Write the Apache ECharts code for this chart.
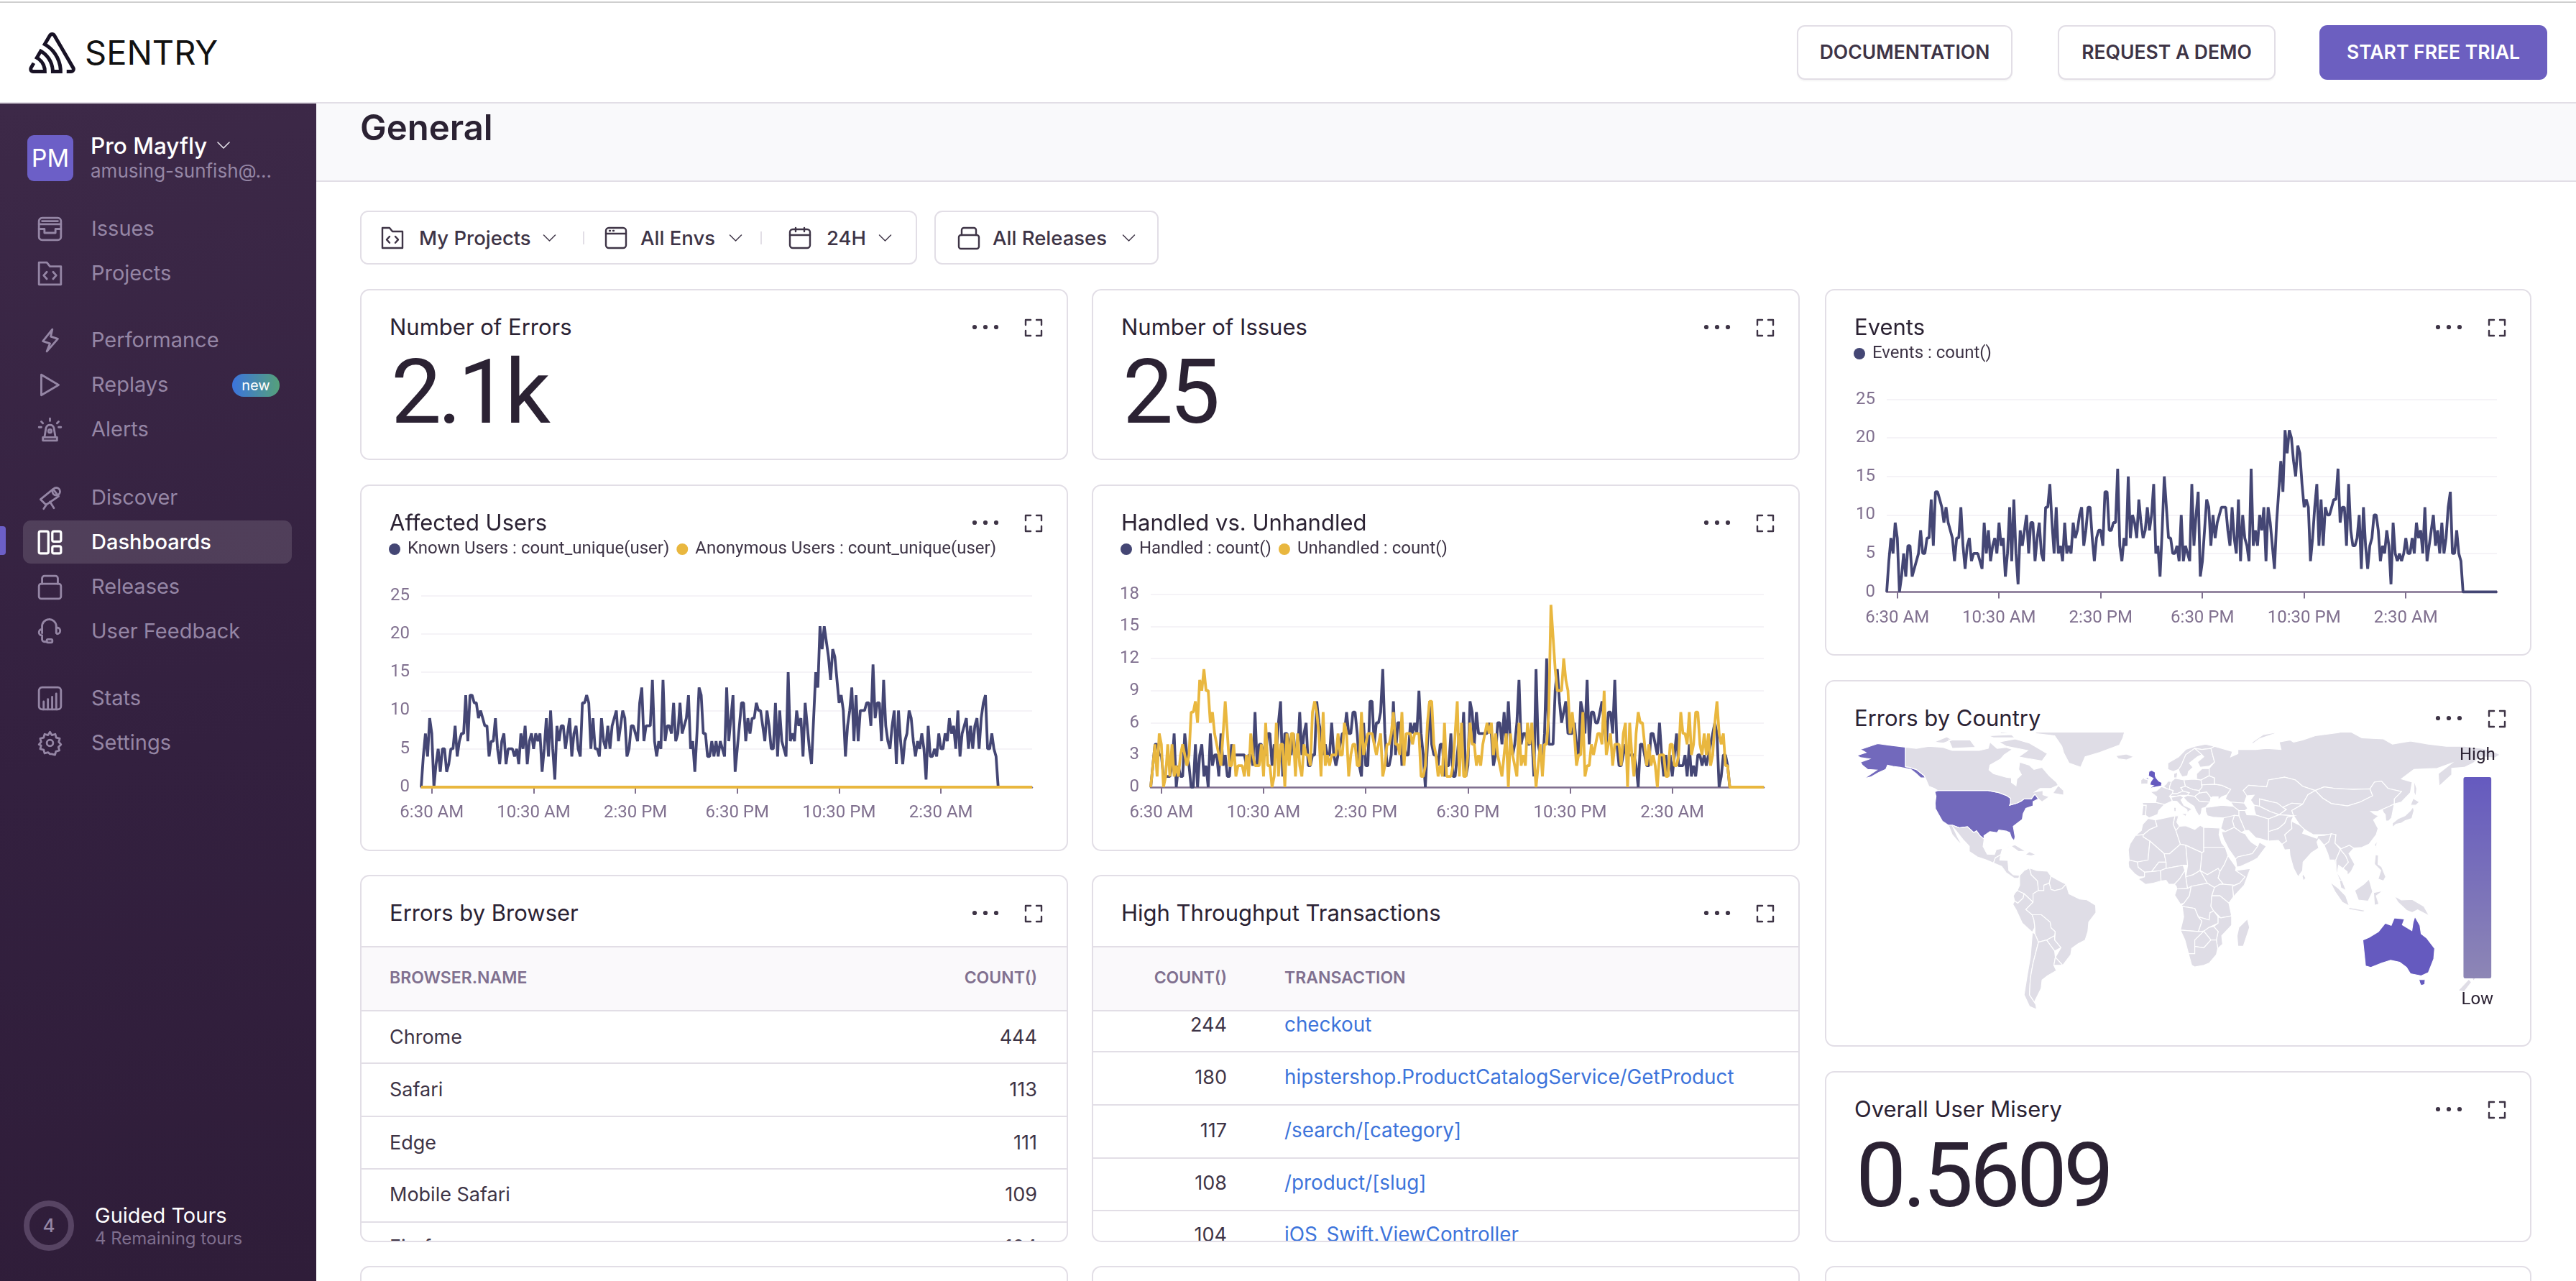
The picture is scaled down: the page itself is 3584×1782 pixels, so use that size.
<!DOCTYPE html>
<html>
<head>
<meta charset="utf-8">
<title>Sentry - General</title>
<script src="https://cdn.jsdelivr.net/npm/echarts@6/dist/echarts.min.js"></script>
<style>
html, body { margin: 0; padding: 0; background: #fff; }
#page { position: relative; width: 3584px; height: 1782px; overflow: hidden; background: #fff; font-family: Inter, sans-serif; color: #2b2233; }
.t { position: absolute; white-space: nowrap; transform: translateY(-50%); line-height: 1.2; }
.r { transform: translate(-100%, -50%); }
.c { transform: translate(-50%, -50%); }
.box { position: absolute; box-sizing: border-box; }
.card { position: absolute; box-sizing: border-box; background: #fff; border: 2px solid #e2dee6; border-radius: 13px; overflow: hidden; }
.chart { position: absolute; }
svg { position: absolute; overflow: visible; }
</style>
</head>
<body>
<div id="page"></div>
<script>
// bucket starts 6:05 AM, 5 minute buckets
var startMinutes = 6 * 60 + 5;
var bucketMinutes = 5;
var tickLabels = ['6:30 AM', '10:30 AM', '2:30 PM', '6:30 PM', '10:30 PM', '2:30 AM'];

var eventCounts = [
  0,4,7,5,9,7,0,2,5,2, 6,6,2,3,4,5,8,5,5,7, 7,12,6,13,13,12,11,9,11,9, 8,7,4,7,7,11,6,3,6,7,
  4,5,5,5,4,3,9,5,8,4, 6,7,5,9,6,7,2,5,11,4, 12,5,1,8,6,8,10,5,9,9, 4,7,9,5,4,11,11,14,9,5,
  11,5,6,4,9,5,6,5,9,7, 8,10,11,6,8,11,11,7,4,7, 8,8,6,13,13,8,8,9,9,16, 6,4,7,6,15,7,10,9,7,12,
  9,7,8,11,8,10,14,5,6,2, 8,15,11,7,7,5,5,6,4,10, 4,6,5,4,14,6,10,13,2,4, 8,12,11,6,10,7,9,10,11,11,
  11,8,6,11,7,5,12,4,10,7, 6,4,16,6,8,6,10,8,11,4, 11,9,6,3,9,13,17,13,21,18, 21,20,17,15,19,18,14,11,12,11,
  4,7,11,14,6,12,6,11,10,10, 11,12,12,16,9,11,11,6,14,8, 6,6,7,10,3,11,6,3,6,7, 10,10,8,4,6,5,8,6,1,9,
  5,4,5,4,5,7,5,5,7,5, 9,7,8,5,11,4,6,8,10,6, 8,5,9,5,7,11,13,5,5,8, 5,4,0,0,0,0,0,0,0,0, 0,0,0,0,0,0,0,0,0
];

var knownUsers = [
  0,4,7,4,9,7,0,3,5,2, 5,5,2,3,5,5,8,4,6,7, 7,12,6,12,12,11,11,9,10,9, 8,8,4,6,6,9,5,3,6,7,
  3,5,5,5,4,5,3,7,5,8, 3,6,7,5,7,6,7,2,5,9, 4,10,5,1,8,6,8,8,5,7, 9,4,7,8,5,4,11,11,12,11,
  5,9,5,5,4,9,6,5,8,5, 8,9,10,6,8,10,9,4,5,8, 8,7,6,11,13,6,8,8,8,14, 6,4,6,5,14,6,8,8,7,11,
  6,7,11,7,8,9,12,5,6,2, 7,13,12,7,7,4,4,6,4,6, 4,6,5,4,13,6,9,12,2,5, 8,11,11,6,9,7,9,9,11,10,
  10,8,6,10,8,5,5,11,4,10, 6,5,4,15,6,7,6,10,8,9, 4,11,8,5,3,9,15,13,21,18, 21,19,17,14,18,17,14,11,12,10,
  4,8,10,13,6,12,6,10,10,10, 11,11,8,16,9,11,11,6,14,8, 6,5,8,10,3,10,6,3,6,7, 10,9,6,4,6,5,7,5,1,8,
  4,4,5,4,7,5,5,7,6,9, 7,8,5,10,4,7,8,9,5,8, 5,8,9,5,9,11,12,5,5,7, 5,4,0,0,0,0,0,0,0,0, 0,0,0,0,0,0,0,0,0
];

var anonymousUsers = [
  0,0,0,0,0,0,0,0,0,0, 0,0,0,0,0,0,0,0,0,0, 0,0,0,0,0,0,0,0,0,0, 0,0,0,0,0,0,0,0,0,0,
  0,0,0,0,0,0,0,0,0,0, 0,0,0,0,0,0,0,0,0,0, 0,0,0,0,0,0,0,0,0,0, 0,0,0,0,0,0,0,0,0,0,
  0,0,0,0,0,0,0,0,0,0, 0,0,0,0,0,0,0,0,0,0, 0,0,0,0,0,0,0,0,0,0, 0,0,0,0,0,0,0,0,0,0,
  0,0,0,0,0,0,0,0,0,0, 0,0,0,0,0,0,0,0,0,0, 0,0,0,0,0,0,0,0,0,0, 0,0,0,0,0,0,0,0,0,0,
  0,0,0,0,0,0,0,0,0,0, 0,0,0,0,0,0,0,0,0,0, 0,0,0,0,0,0,0,0,0,0, 0,0,0,0,0,0,0,0,0,0,
  0,0,0,0,0,0,0,0,0,0, 0,0,0,0,0,0,0,0,0,0, 0,0,0,0,0,0,0,0,0,0, 0,0,0,0,0,0,0,0,0,0,
  0,0,0,0,0,0,0,0,0,0, 0,0,0,0,0,0,0,0,0,0, 0,0,0,0,0,0,0,0,0,0, 0,0,0,0,0,0,0,0,0,0, 0,0,0,0,0,0,0,0,0
];

var handled = [
  0,2,4,4,3,3,1,1,1,1, 2,5,0,2,1,1,5,3,2,0, 0,4,0,3,4,1,2,0,5,2, 3,3,1,5,2,3,1,1,4,3,
  3,3,3,3,3,2,3,3,2,7, 2,4,4,3,3,5,5,2,4,3, 6,8,1,5,5,4,3,5,3,3, 7,3,5,6,2,2,3,3,8,6,
  5,3,4,3,3,6,3,2,3,4, 5,5,7,5,5,7,7,5,2,1, 6,2,2,8,8,4,6,6,7,11, 5,2,2,3,8,3,6,6,2,4,
  3,3,6,5,6,5,9,5,3,0, 4,8,4,3,3,2,4,4,1,2, 2,5,1,1,3,5,3,7,1,2, 8,7,4,7,5,5,5,5,5,6,
  5,2,3,6,6,4,7,4,8,4, 3,4,6,10,4,5,5,4,4,5, 1,11,4,3,2,5,12,4,4,4, 9,11,8,6,7,8,5,5,5,6,
  4,3,8,7,5,10,4,7,7,6, 6,7,8,6,4,7,7,5,10,4, 2,2,3,4,3,3,3,3,2,0, 4,4,3,2,2,5,5,4,3,6,
  3,1,3,1,3,1,3,5,2,2, 2,3,1,4,1,2,1,3,3,2, 3,2,3,4,5,6,5,0,1,3, 3,2,0,0,0,0,0,0,0,0, 0,0,0,0,0,0,0,0,0
];

var unhandled = [
  0,2,4,1,5,4,0,1,4,1, 4,1,2,1,3,4,3,2,3,7, 7,8,6,10,9,11,9,9,6,7, 5,4,3,2,5,8,5,2,2,4,
  1,2,2,2,1,3,1,5,3,2, 2,2,4,1,6,2,2,0,1,6, 1,4,4,0,5,2,5,5,1,5, 2,1,4,3,3,2,7,8,7,5,
  1,7,2,3,2,3,3,3,5,3, 3,6,5,1,3,4,4,2,2,7, 3,4,5,5,5,4,3,4,5,1, 2,4,4,5,7,4,4,3,7,2,
  5,5,5,4,5,5,5,1,1,2, 6,8,8,4,3,1,2,1,6,1, 1,1,2,5,8,1,6,1,1,3, 6,4,4,2,3,2,4,5,6,5,
  6,3,5,3,2,1,3,5,0,5, 3,2,1,6,2,3,2,6,4,6, 3,0,2,4,1,4,4,7,17,14, 11,9,9,9,12,10,9,5,7,5,
  2,3,3,7,1,2,2,4,3,4, 5,5,4,9,3,4,5,2,4,4, 4,2,5,6,0,6,3,1,5,7, 6,6,4,2,4,2,3,2,0,3,
  3,3,1,1,4,4,2,2,3,7, 5,5,4,7,3,4,7,7,4,3, 5,3,5,2,3,6,8,5,4,5, 2,2,0,0,0,0,0,0,0,0, 0,0,0,0,0,0,0,0,0
];

var browsers = ['Chrome', 'Safari', 'Edge', 'Mobile Safari', 'Firefox'];
var browserCounts = [444, 113, 111, 109, 104];
var transactionCounts = [244, 180, 117, 108, 104];
var transactionNames = ['checkout', 'hipstershop.ProductCatalogService/GetProduct', '/search/[category]', '/product/[slug]', 'iOS_Swift.ViewController'];

var errorCountries = ['United States', 'United Kingdom', 'Australia'];
var errorCountryValues = [8, 12, 12];

// hand simplified outlines for the base map, [name, ring, ring...] in lon/lat
var worldShapes = [
['United States',
 [[-141,69.6],[-141,60.3],[-139,60],[-135,59],[-130.5,56],[-130,55],[-132.5,55],[-135,57],[-138,59],[-144,60],[-148,60.5],[-151,61],[-152,59],[-156,57.5],[-160,55.5],[-164,54.7],[-160,57],[-157,58.7],[-162,59],[-165,61],[-166,62.5],[-161,64],[-166,64.6],[-168,65.6],[-163,67],[-166,68.5],[-156.5,71.3],[-150,70.5]],
 [[-124.7,48.4],[-123,49],[-95,49],[-89,48],[-84.5,46.5],[-82.5,45.3],[-82.5,43],[-83,42],[-79,43],[-76.5,44],[-75,45],[-71,45],[-69,47.3],[-67,45],[-70,43.7],[-70,41.7],[-74,40.5],[-75.5,38],[-76,35.2],[-78,34],[-81,32],[-80,27],[-80.5,25.1],[-82,26.5],[-83,29],[-85,29.7],[-89,30.2],[-90,29],[-94,29.5],[-97.3,27.5],[-97.2,25.9],[-99.5,27.5],[-101.5,29.8],[-103,29],[-106.5,31.8],[-111,31.3],[-114.8,32.5],[-117.1,32.5],[-120.5,34.5],[-122.5,37.5],[-124.3,40.3],[-124.5,43],[-124,46.3]]],
['Canada',
 [[-141,69.6],[-135,69],[-128,70],[-120,69.5],[-115,68],[-108,68],[-100,68],[-95,69],[-94,72],[-90,69],[-85,69.5],[-81.5,68.5],[-86,66],[-88,64],[-94,61],[-94.5,58.8],[-92,57],[-85,55.3],[-82,55],[-82,52.8],[-79.5,51.3],[-79,54.5],[-76.5,56.5],[-78,59],[-77.5,62.5],[-72,61],[-69.5,59],[-65,60],[-61,56],[-57,53],[-56,51.5],[-60,50],[-66,50],[-69,48.3],[-64.5,49],[-64.5,47],[-61,46],[-65,43.6],[-67,45],[-69,47.3],[-71,45],[-75,45],[-76.5,44],[-79,43],[-83,42],[-82.5,43],[-82.5,45.3],[-84.5,46.5],[-89,48],[-95,49],[-123,49],[-125,50],[-128,51],[-130,55],[-130.5,56],[-135,59],[-139,60],[-141,60.3]],
 [[-80,73.5],[-72,71.5],[-67,69],[-62,66.5],[-65,63],[-72,64],[-78,65],[-73,68],[-85,70],[-89,72]],
 [[-117,73],[-105,73],[-102,69.5],[-115,69]],
 [[-90,80],[-65,82],[-75,77],[-88,76]],
 [[-125,72],[-118,74.5],[-115,73],[-120,71.5]],
 [[-95,75],[-82,75.5],[-80,74],[-92,74]],
 [[-59,47.7],[-53,46.8],[-53,49],[-56,51.4]]],
['Greenland', [[-73,78],[-60,82],[-30,83.5],[-18,80],[-20,74],[-22,70.5],[-33,67],[-41,65],[-43.5,60],[-50,62],[-53,67],[-54,70],[-58,75],[-68,76]]],
['Iceland', [[-24,65.5],[-18,66.3],[-14,65],[-18,63.5],[-22.5,64]]],
['Hawaii', [[-155.8,20],[-155,19.6],[-155.8,19]]],
['Mexico', [[-117.1,32.5],[-114.8,32.5],[-111,31.3],[-106.5,31.8],[-103,29],[-101.5,29.8],[-99.5,27.5],[-97.2,25.9],[-97.8,22.5],[-95.5,18.8],[-91.5,18.6],[-90.5,21],[-87,21.5],[-88,18.5],[-91,17],[-92,14.6],[-96,16],[-101,17.5],[-105.5,20],[-105.5,22.5],[-109,25.7],[-112.5,29.5],[-114.5,31.5],[-112,27],[-109.5,23],[-112,25],[-115,28]]],
['Central America', [[-92,14.6],[-91,17],[-88,18.5],[-88.5,16],[-84,15.8],[-83.5,11],[-81,9],[-77.5,8.7],[-78,7.3],[-80.5,7.3],[-85,10],[-87.5,13]]],
['Cuba', [[-85,22],[-80,23.2],[-74.2,20.2],[-78,20],[-82,22.5]]],
['Hispaniola', [[-74.4,18.5],[-72,20],[-68.4,18.6],[-71,18]]],
['Colombia', [[-77.5,8.7],[-75,11],[-72,12.2],[-71,9],[-67.5,6],[-67,1.5],[-70,0],[-70,-4],[-75,0],[-78.8,1.5],[-77.5,4]]],
['Venezuela', [[-72,12.2],[-68,11],[-62,10.7],[-60,8.4],[-61,5],[-64,4],[-64,1.5],[-67,1.5],[-67.5,6],[-71,9]]],
['Guianas', [[-60,8.4],[-55,6],[-51.6,4.5],[-54,2.3],[-58,1.5],[-60,2],[-61,5]]],
['Ecuador', [[-78.8,1.5],[-75,0],[-75.5,-2],[-78.5,-4.5],[-80.3,-3.4],[-81,-1],[-80,0.5]]],
['Peru', [[-75,0],[-70,-4],[-74,-7.5],[-70.5,-10],[-69.5,-12.5],[-69,-16],[-70.4,-18.3],[-76,-14],[-79.5,-7.5],[-81.3,-5],[-80.3,-3.4],[-78.5,-4.5],[-75.5,-2]]],
['Brazil', [[-60,2],[-58,1.5],[-54,2.3],[-51.6,4.5],[-50,0],[-44,-2.5],[-40,-2.9],[-35.2,-5.5],[-35,-9],[-39,-13.5],[-39.5,-18],[-41,-22],[-45,-23.8],[-48.5,-26],[-49,-29],[-53.5,-34],[-57.6,-30.2],[-54.5,-25.6],[-58,-22],[-57.7,-18],[-60,-16.2],[-60.5,-13.5],[-65.4,-10],[-70.5,-10],[-74,-7.5],[-70,-4],[-70,0],[-67,1.5],[-64,1.5],[-64,4],[-61,5]]],
['Bolivia', [[-70.5,-10],[-65.4,-10],[-60.5,-13.5],[-60,-16.2],[-57.7,-18],[-58,-20],[-62.5,-22],[-67,-23],[-69,-19],[-69,-16],[-69.5,-12.5]]],
['Paraguay', [[-58,-20],[-58,-22],[-54.5,-25.6],[-58,-27.2],[-62.5,-22]]],
['Chile', [[-70.4,-18.3],[-69,-19],[-67,-23],[-70,-33],[-71.5,-40],[-72,-48],[-68.5,-52.5],[-68,-55],[-72,-53.5],[-75,-48],[-73.5,-40],[-71.5,-30]]],
['Argentina', [[-67,-23],[-62.5,-22],[-58,-27.2],[-57.6,-30.2],[-58.4,-34],[-57,-36.5],[-62,-39],[-65,-41],[-65.5,-45],[-69,-51],[-68.5,-52.5],[-72,-48],[-71.5,-40],[-70,-33]]],
['Uruguay', [[-57.6,-30.2],[-53.5,-34],[-58.4,-34]]],
['United Kingdom',
 [[-5.7,50],[1.4,51.2],[1.7,52.7],[0,53.5],[-1.5,55],[-2,56],[-2,57.7],[-4,58.6],[-5.5,58],[-5.8,56],[-3.2,54.8],[-4.5,53.2],[-5,51.7],[-3,51.3]],
 [[-8,54.5],[-6,55.2],[-5.5,54.3]]],
['Ireland', [[-10,52],[-6.2,52.2],[-6,54],[-8,54.5],[-8,55.3],[-10,54]]],
['Portugal', [[-9.5,37],[-7.4,37.2],[-7,42],[-8.8,42]]],
['Spain', [[-9.2,43.3],[-1.8,43.4],[3.2,42.4],[0,39.5],[-0.7,37.6],[-5.5,36],[-7.4,37.2],[-7,42],[-8.8,42]]],
['France', [[-1.8,43.4],[-1.2,46],[-4.7,48.4],[-1.5,48.7],[1.5,50.9],[4.2,50],[8,49],[7.5,47.5],[6,46.3],[7.5,44],[3.2,42.4]]],
['Benelux', [[2.5,51],[4,52],[5,53.4],[7,53.3],[6,50.8],[6,49.5],[4.2,50]]],
['Germany', [[7,53.3],[9,54.8],[14,54],[14.8,51],[12.2,50.3],[13.5,48.7],[10,47.5],[7.5,47.5],[8,49],[6,49.5],[6,50.8]]],
['Austria', [[6,46.3],[7.5,47.5],[10,47.5],[13.5,48.7],[17,48],[16,46.7],[12,46.7],[10,46.3]]],
['Italy',
 [[7.5,44],[6.8,45.8],[10,46.3],[12,46.7],[13.7,45.7],[12.3,44.5],[14,42],[18.5,40.2],[16.5,39],[16,38],[15.6,40],[12.3,41.8],[10,43.8]],
 [[12.5,38],[15.6,38.2],[15,36.7]],
 [[8.3,41],[9.7,41],[9.5,39],[8.5,39]]],
['Poland', [[14,54],[19,54.4],[23.5,54],[24,50.5],[22.5,49],[19,49.4],[14.8,51]]],
['Czechia', [[12.2,50.3],[14.8,51],[19,49.4],[22.5,49],[22.5,47.8],[20,46.2],[16,46.7],[17,48],[13.5,48.7]]],
['Balkans', [[13.7,45.7],[16,46.7],[20,46.2],[22.5,44],[28.5,43.5],[26,41],[24,40.5],[23.5,38],[22.5,36.7],[20.5,39.5],[19.5,41.5],[16,43.5]]],
['Romania', [[22.5,47.8],[26.6,48.3],[29,45.5],[28.5,43.5],[22.5,44],[20,46.2]]],
['Ukraine', [[24,50.5],[24,51.7],[31,52],[35,51.5],[40,49.6],[38,47],[35,46],[33,44.5],[33,46],[30,46],[29,45.5],[26.6,48.3],[22.5,47.8],[22.5,49]]],
['Baltics', [[21,54.4],[21,57],[24,59.4],[28,59.5],[28,56],[23.5,54]]],
['Belarus', [[23.5,54],[28,56],[31,55],[31,52],[24,51.7],[24,50.5]]],
['Norway', [[5,59],[5,62],[11,65],[15,68.5],[20,70],[26,71],[31,70],[29,69],[24,68.5],[20,69],[15,66],[12.5,61],[11,59],[8,58]]],
['Sweden', [[11,59],[12.5,61],[15,66],[20,69],[24,66],[21.5,65],[17,62],[19,60],[16.5,58],[16,56],[13,55.4],[11.5,57.5]]],
['Finland', [[24,66],[20,69],[24,68.5],[29,69],[31,62.5],[28,60.5],[23,60],[21.5,62.5],[25,65]]],
['Denmark', [[8.3,55],[8.3,57],[10.5,57.7],[10,55]]],
['Russia',
 [[28,59.5],[31,62.5],[29,69],[31,70],[41,67.5],[40,65],[44,66.5],[44,68.5],[54,68.5],[60,69],[68,68.5],[67,72],[73,73],[75,72],[80,73],[87,75],[100,76.5],[105,77.7],[113,74],[125,73.5],[130,71],[140,72.5],[150,71],[160,70],[170,70],[180,69],[185,68],[190,66],[187,64.5],[180,65],[178,64.5],[175,62],[170,60],[163,59.5],[163,56.5],[156,51],[155.5,57],[163,62],[155,59.5],[142,59],[135,54.5],[141,53],[140,48],[135,43.5],[131,42.6],[131,45],[135,48.5],[127.5,50],[124,53.4],[120,53],[117.5,49.8],[108,49.5],[98,50],[92,50.7],[87,49],[80,51],[76,54],[70,55.3],[61,54],[60,50.7],[50,51.5],[47,49],[49,46.5],[47.5,43],[40,43.5],[37,45],[38,47],[40,49.6],[35,51.5],[31,52],[31,55],[28,56]],
 [[142,54],[143.5,50],[143,46],[142,48]],
 [[52,71],[56,73.5],[68,77],[58,75.5],[52,72]]],
['Kazakhstan', [[47,49],[50,51.5],[60,50.7],[61,54],[70,55.3],[76,54],[80,51],[87,49],[83,47],[80,42.5],[74,43],[69,41],[66,43],[61,44],[56,45],[56,41.5],[53,42],[51,44.5],[53,46.8],[49,46.5]]],
['Uzbekistan', [[56,45],[61,44],[66,43],[69,41],[71,40],[67,37.5],[62,39],[56,41.5]]],
['Turkmenistan', [[53,42],[56,41.5],[62,39],[67,37.5],[61,35.5],[54,37.3],[53,40]]],
['Kyrgyzstan', [[69,41],[74,43],[80,42.5],[74,39.5],[75,37],[67,37.5],[71,40]]],
['Mongolia', [[87,49],[92,50.7],[98,50],[108,49.5],[117.5,49.8],[119,46.5],[112,43.5],[105,41.7],[96,42.8],[91,45.5]]],
['China', [[80,42.5],[83,47],[87,49],[91,45.5],[96,42.8],[105,41.7],[112,43.5],[119,46.5],[117.5,49.8],[120,53],[124,53.4],[127.5,50],[135,48.5],[131,45],[131,42.6],[128,41.4],[124.3,40],[121.5,39],[118,39],[120.5,37.5],[122.5,37],[119.5,35],[122,31],[121,28],[117,23.5],[113,22],[108.5,21.6],[106,23],[101.5,21.3],[98,24],[98.5,28],[92,28],[86,28],[81,30.5],[78.5,32.5],[75,37],[74,39.5]]],
['Korea', [[124.3,40],[128,41.4],[131,42.6],[129.5,36],[128,34.6],[126.3,34.5],[126,37.5],[125,38.5]]],
['Japan',
 [[130.8,34],[133,35.6],[137,37],[140,39.5],[141.5,41.3],[142,39.5],[140.8,35.7],[137,34.6],[135,33.5],[132,33],[130,31.5],[130,33.5]],
 [[140,42],[141.5,45.3],[145,43.5],[143,42]]],
['Taiwan', [[120,23.2],[121.6,25.2],[121,22]]],
['India', [[68.5,23.5],[71,25],[70,28],[74,31],[73.8,34.5],[78.5,32.5],[81,30.5],[80,28.7],[88,26.3],[88.5,27.5],[92,27.7],[96,28.5],[94.5,24.5],[92,23],[89,26],[88,24.5],[89,21.7],[85,19.5],[80.3,15],[80,11],[77.5,8],[75,12],[73,18],[72.7,21],[70,20.8]]],
['Pakistan', [[61,25],[61,29.5],[66.5,31],[70,33.5],[71.5,36.5],[75,37],[73.8,34.5],[74,31],[70,28],[71,25],[68.5,23.5],[66.5,25.3]]],
['Afghanistan', [[61,35.5],[67,37.5],[75,37],[71.5,36.5],[70,33.5],[66.5,31],[61,29.5]]],
['Iran', [[44.5,39.5],[48,39.5],[49,37.5],[54,37.3],[61,35.5],[61,29.5],[61,25],[57,26],[54,26.5],[50,30],[48,30],[46,34],[44.5,37]]],
['Turkey', [[26,41],[29,41.2],[35,42],[41.5,41.5],[44.5,39.5],[44.5,37],[36,36],[30,36.3],[27,37],[26,39]]],
['Georgia', [[40,43.5],[47.5,43],[49.5,40.5],[48,39.5],[44.5,39.5],[41.5,41.5]]],
['Iraq', [[44.5,37],[46,34],[48,30],[46,29],[42,31.5],[41,34.5],[42,37.2]]],
['Syria', [[36,36],[42,37.2],[41,34.5],[42,31.5],[37,29.5],[34.5,31],[35.8,35]]],
['Saudi Arabia', [[34.8,29.5],[37,29.5],[42,31.5],[46,29],[48,28.5],[50,26],[51.5,24.5],[55,22.5],[52,19],[44,17.5],[42.7,16.5],[39,21],[36,26]]],
['Yemen', [[42.7,16.5],[44,17.5],[52,19],[55,22.5],[56,24.5],[59.8,22.5],[55,17],[52,15.5],[45,12.8],[43.4,12.7]]],
['Myanmar', [[92,23],[94.5,24.5],[96,28.5],[98.5,28],[98,24],[101,21],[98.5,16],[98.7,10.5],[97.7,16],[95,16],[94,19]]],
['Thailand', [[98.5,16],[101,21],[104,18],[105.5,15],[102.5,12],[100,13.5],[99.3,10],[102,6.3],[100.5,6.5],[98.7,10.5]]],
['Vietnam', [[101.5,21.3],[106,23],[108.5,21.6],[105.8,19],[109,14],[107,10.5],[105,8.7],[104.8,10.5],[102.5,12],[105.5,15],[104,18],[101,21]]],
['Malaysia', [[100.5,6.5],[102,6.3],[104.3,1.4],[101.3,2.8]]],
['Indonesia',
 [[95.3,5.6],[100,2.5],[104,-1],[106,-5.8],[102,-4],[98,1]],
 [[105.5,-6.5],[114.5,-7.8],[114,-8.7],[106,-7.5]],
 [[109,1.5],[114,4.5],[117,7],[119,1],[116.5,-3.5],[111,-3]],
 [[119.5,0.5],[125,1.5],[121,-1],[122.5,-5],[120,-5.5]]],
['New Guinea', [[131,-1],[135,-3],[141,-2.7],[147.5,-6],[150.5,-10.5],[144,-7.7],[141,-9],[138,-8],[133,-4]]],
['Philippines', [[120.5,18.5],[122.2,18.3],[122,14],[124,12.8],[126.3,8],[125,6],[122,7],[123.5,11],[120,14]]],
['Sri Lanka', [[80,9.7],[81.8,7.5],[80.5,6],[79.8,8]]],
['Morocco', [[-5.9,35.8],[-2,35],[-1,32],[-5,30.5],[-8.7,28],[-13,27.7],[-9.8,30],[-9,33]]],
['Mauritania', [[-13,27.7],[-8.7,28],[-8.7,27],[-5,25],[-6,16],[-12,15],[-16.5,16],[-17,21],[-16,23.7]]],
['Algeria', [[-2,35],[9,37],[8,33],[9.5,30],[12,23.5],[6,19],[3,19],[-5,25],[-8.7,27],[-8.7,28],[-5,30.5],[-1,32]]],
['Tunisia', [[9,37],[11,37],[10,34],[11.5,32],[9.5,30],[8,33]]],
['Libya', [[11.5,32],[15,32.3],[20,30.5],[23,32.5],[25,31.5],[25,20],[24,19.5],[15,23],[12,23.5],[9.5,30]]],
['Egypt', [[25,31.5],[34,31.2],[33.5,28],[35,24],[37,22],[25,22]]],
['Sudan', [[25,22],[37,22],[38.5,18],[36.5,14],[34,10.5],[33,12],[27,9],[23,11],[24,19.5],[25,20]]],
['Mali', [[-12,15],[-6,16],[-5,25],[3,19],[4,15],[0,15],[-4,10.5],[-8,10.2],[-11.5,12.5]]],
['Niger', [[3,19],[6,19],[12,23.5],[15,23],[16,13.5],[13.5,13.5],[4,12],[4,15]]],
['Chad', [[15,23],[24,19.5],[23,11],[19,9],[15,8],[16,13.5]]],
['Senegal', [[-17,14.7],[-16.5,16],[-12,15],[-11.5,12.5],[-8,10.2],[-8,8],[-11,8],[-13.5,9.5],[-16.7,12.5]]],
['Ivory Coast', [[-11.5,7],[-8,8],[-8,10.2],[-4,10.5],[1,11],[1.2,6],[-3,5],[-7.5,4.4]]],
['Burkina Faso', [[-4,10.5],[0,15],[4,15],[4,12],[1,11]]],
['Nigeria', [[1.2,6],[1,11],[4,12],[13.5,13.5],[14.5,11],[11.5,7],[8.7,4.5],[5.5,4.5],[4,6.3]]],
['Cameroon', [[8.7,4.5],[11.5,7],[14.5,11],[15,8],[16,2.5],[10,2.3],[9.7,3.5]]],
['Central African Rep.', [[15,8],[19,9],[23,11],[27,5],[18,3.5],[16,2.5]]],
['Gabon', [[10,2.3],[16,2.5],[18,3.5],[17,-1],[14,-4.5],[12,-5],[8.8,-0.7]]],
['Dem. Rep. Congo', [[18,3.5],[27,5],[31,3],[29.5,-1],[29,-6],[30.5,-8.2],[28.5,-9],[28,-12.5],[22,-11],[20,-7],[13,-6],[12.3,-5.8],[14,-4.5],[17,-1]]],
['South Sudan', [[23,11],[27,9],[33,12],[34,10.5],[33,7.5],[36,4.5],[34,4.5],[31,3],[27,5]]],
['Ethiopia', [[34,10.5],[36.5,14],[38.5,18],[43,12.6],[42.8,11],[48,8],[45,5],[42,4],[36,4.5],[33,7.5]]],
['Somalia', [[42.8,11],[51,12],[47.5,4],[41.5,-1.5],[41,3.5],[45,5],[48,8]]],
['Kenya', [[31,3],[34,4.5],[36,4.5],[42,4],[41,3.5],[41.5,-1.5],[39,-4.5],[34,-1],[29.5,-1]]],
['Tanzania', [[29.5,-1],[34,-1],[39,-4.5],[40.5,-10.5],[34.5,-11.5],[30.5,-8.2],[29,-6]]],
['Angola', [[13,-6],[20,-7],[22,-11],[24,-13],[22,-18],[12,-17.3],[13.8,-11]]],
['Zambia', [[22,-11],[28,-12.5],[28.5,-9],[30.5,-8.2],[33,-11],[33,-14],[28,-16],[25,-17.8],[22,-18],[24,-13]]],
['Mozambique', [[34.5,-11.5],[40.5,-10.5],[40.5,-15],[35,-20],[35.5,-24],[32.8,-26],[32,-22],[33,-18],[30.5,-15.5],[33,-14],[33,-11]]],
['Zimbabwe', [[25,-17.8],[28,-16],[30.5,-15.5],[33,-18],[32,-22],[29,-22]]],
['Namibia', [[12,-17.3],[22,-18],[25,-17.8],[20,-22],[20,-28.5],[16.5,-28.5],[14.5,-22]]],
['Botswana', [[20,-22],[25,-17.8],[29,-22],[25,-25.7],[20,-25]]],
['South Africa', [[16.5,-28.5],[20,-28.5],[20,-25],[25,-25.7],[29,-22],[32,-22],[32.8,-26],[32,-29],[28,-33],[25,-34],[20,-34.8],[18.3,-34]]],
['Madagascar', [[49.3,-12],[50.5,-16],[47,-25],[44,-25],[43.5,-20],[44.5,-16]]],
['Australia',
 [[113.5,-22],[114,-26],[115,-34.3],[118,-35],[124,-33],[129,-31.6],[134,-32.5],[137.8,-35],[140,-38],[146,-39],[150,-37.5],[153,-31],[153.5,-26],[149,-21],[146,-19],[145.3,-15],[142.5,-10.8],[141.5,-13.5],[140.8,-17.5],[135.5,-14.8],[136.7,-12],[131,-11.5],[129.3,-15],[126,-14],[122.2,-18],[117,-20.7]],
 [[144.7,-40.8],[148.2,-40.8],[148,-43],[146,-43.6],[145.3,-42.5]]],
['New Zealand',
 [[172.7,-34.5],[178.5,-37.7],[175,-41.5],[174,-39]],
 [[172.5,-40.6],[174,-42],[170,-46.5],[166.5,-46]]]
];

var page = document.getElementById('page');

function el(parent, cls, css, html) {
  var d = document.createElement('div');
  d.className = cls;
  d.style.cssText = css;
  if (html !== undefined) d.innerHTML = html;
  parent.appendChild(d);
  return d;
}
function box(parent, x, y, w, h, css) {
  return el(parent, 'box', 'left:' + x + 'px;top:' + y + 'px;width:' + w + 'px;height:' + h + 'px;' + (css || ''));
}
// text placed by its vertical center
function txt(parent, x, cy, s, size, color, weight, cls, extra) {
  return el(parent, 't ' + (cls || ''), 'left:' + x + 'px;top:' + cy + 'px;font-size:' + size + 'px;color:' + color + ';font-weight:' + (weight || 400) + ';' + (extra || ''), s);
}
function icon(parent, x, y, w, h, vb, body, color, sw) {
  var s = '<svg xmlns="http://www.w3.org/2000/svg" style="left:' + x + 'px;top:' + y + 'px" width="' + w + '" height="' + h + '" viewBox="' + vb + '" fill="none" stroke="' + color + '" stroke-width="' + (sw || 1.3) + '" stroke-linejoin="round" stroke-linecap="round">' + body + '</svg>';
  parent.insertAdjacentHTML('beforeend', s);
}

/* ---- top bar ---- */
var SIDE = '#9586a5', INK = '#3e3446', MUTED = '#80708f', BORDER = '#e2dee6', PURPLE = '#6c5fc7';
box(page, 0, 2, 3584, 2, 'background:#cfcfcf');
box(page, 0, 142, 3584, 2, 'background:' + BORDER);
page.insertAdjacentHTML('beforeend', '<svg style="left:40px;top:45px" width="65" height="57" viewBox="0 0 50 44"><path fill="#181225" d="M29,2.26a4.67,4.67,0,0,0-8,0L14.42,13.53A32.21,32.21,0,0,1,32.17,40.19H27.55A27.68,27.68,0,0,0,12.09,17.47L6,28a15.92,15.92,0,0,1,9.23,12.17H4.62A.76.76,0,0,1,4,39.06l2.94-5a10.74,10.74,0,0,0-3.36-1.9l-2.91,5a4.54,4.54,0,0,0,1.69,6.24A4.66,4.66,0,0,0,4.62,44H19.15a19.4,19.4,0,0,0-8-17.31l2.31-4A23.87,23.87,0,0,1,23.76,44H36.07a35.88,35.88,0,0,0-16.41-31.8l4.67-8a.77.77,0,0,1,1.05-.27c.53.29,20.29,34.77,20.66,35.17a.76.76,0,0,1-.68,1.13H40.6q.09,1.91,0,3.81h4.78A4.59,4.59,0,0,0,50,39.43a4.49,4.49,0,0,0-.62-2.28Z"/></svg>');
txt(page, 118, 73, 'SENTRY', 47, '#111', 400);
var topButtons = [[2500, 300, 'DOCUMENTATION'], [2863, 303, 'REQUEST A DEMO'], [3227, 317, 'START FREE TRIAL']];
topButtons.forEach(function (b, i) {
  var primary = i == 2;
  box(page, b[0], 35, b[1], 76, 'border-radius:11px;' + (primary ? 'background:#6c5fc0' : 'background:#fff;border:2px solid ' + BORDER + ';box-shadow:0 2px 2px rgba(0,0,0,.04)'));
  txt(page, b[0] + b[1] / 2, 73, b[2], 26.5, primary ? '#fff' : INK, 600, 'c');
});

/* ---- sidebar ---- */
box(page, 0, 144, 440, 1638, 'background:linear-gradient(170deg,#3d2948 0%,#33203f 55%,#2f1d39 100%)');
box(page, 38, 188, 64, 64, 'background:' + PURPLE + ';border-radius:9px');
txt(page, 70, 220, 'PM', 34, '#fff', 400, 'c');
txt(page, 126, 203, 'Pro Mayfly', 31.5, '#fff', 500);
icon(page, 302, 197, 18, 10, '0 0 18 10', '<path d="M1 1l8 8 8-8"/>', '#e8e4ec', 1.6);
txt(page, 126, 238, 'amusing-sunfish@...', 26, SIDE, 400);
box(page, 32, 724, 374, 60, 'background:rgba(255,255,255,.13);border-radius:11px');
box(page, 0, 732, 8, 40, 'background:' + PURPLE + ';border-radius:0 4px 4px 0');

var navLabels = ['Issues', 'Projects', 'Performance', 'Replays', 'Alerts', 'Discover', 'Dashboards', 'Releases', 'User Feedback', 'Stats', 'Settings'];
var navCenters = [318, 380, 473, 535, 597, 692, 754, 816, 878, 971, 1033];
var navIcons = [
  '<rect x="1" y="1" width="14" height="14" rx="2"/><path d="M1 5h14M1 8h3.5v2.5h7V8H15M3 3h10"/>',
  '<path d="M1 15V1h5l2 2.5h7V15z"/><path d="M6 7L4 9.2 6 11.4M10 7l2 2.2-2 2.2"/>',
  '<path d="M9.5 1L3.5 8.5l4.5 1.5L6 15l7-8-4.5-1.5z"/>',
  '<path d="M2.5 1.5v13l11-6.5z"/>',
  '<path d="M3.5 15v-2h9v2zM4.5 13l1-6a2.6 2.6 0 015 0l1 6"/><circle cx="8" cy="9" r="1"/><path d="M8 1v1.5M2.5 3l1 1M13.5 3l-1 1M1 6.5h1.5M13.5 6.5H15"/>',
  '<path d="M2 9l8-6.5 3.5 4.5-8 5.5zM6 12l-2 3M8 10.5l2.5 4"/><circle cx="12" cy="4" r="2.4"/>',
  '<rect x="1" y="1" width="6" height="14" rx="1"/><rect x="9.5" y="1" width="5.5" height="6.5" rx="1"/><rect x="9.5" y="10.5" width="5.5" height="4.5" rx="1"/>',
  '<rect x="1" y="6" width="14" height="9.5" rx="1.5"/><path d="M3 6V2.5A1.5 1.5 0 014.5 1h7A1.5 1.5 0 0113 2.5V6"/>',
  '<path d="M3 9V5a4.5 4.5 0 019-.5V9M3 6.5a2 2 0 000 4M12.5 5.5a2 2 0 010 4M3 10.5V13a1.5 1.5 0 001.5 1.5h1.5"/><rect x="6" y="13" width="3.5" height="2" rx=".7"/>',
  '<rect x="1" y="1" width="14" height="14" rx="2"/><path d="M4 15v-5M6.7 15V8.5M9.4 15V7M12 15V5"/>',
  '<circle cx="8" cy="8" r="2"/><path d="M8 1l1.2 2 2.2-.6.6 2.2 2.2.6-.6 2.2L15 9l-1.6 1.6.6 2.2-2.2.6-.6 2.2-2.2-.6L8 15l-1.2-1-2.2.6-.6-2.2-2.2-.6.6-2.2L1 9l1.400-1.600-.6-2.2 2.2-.6.6-2.2 2.2.6z"/>'
];
navLabels.forEach(function (label, i) {
  var on = label == 'Dashboards';
  var color = on ? '#fff' : SIDE;
  icon(page, 52, navCenters[i] - 17.5, 35, 35, '0 0 16 16', navIcons[i], color, on ? 1.5 : 1.3);
  txt(page, 127, navCenters[i], label, 29, color, on ? 500 : 400);
});
box(page, 323, 520, 66, 32, 'background:linear-gradient(90deg,#3c74dd,#55a07a);border-radius:16px');
txt(page, 356, 536, 'new', 20, '#fff', 400, 'c');
icon(page, 32, 1669, 72, 72, '0 0 72 72', '<circle cx="36" cy="36" r="31"/>', '#574463', 8);
txt(page, 68, 1705, '4', 26, SIDE, 500, 'c');
txt(page, 132, 1691, 'Guided Tours', 29, '#fff', 400);
txt(page, 132, 1723, '4 Remaining tours', 24, '#7f6f8e', 400);

/* ---- page header and filters ---- */
box(page, 440, 144, 3144, 108, 'background:#f9f9fb');
box(page, 440, 251, 3144, 2, 'background:' + BORDER);
txt(page, 501, 178, 'General', 49, '#2b2233', 600);

box(page, 501, 293, 775, 75, 'border:2px solid ' + BORDER + ';border-radius:11px;background:#fff');
box(page, 1300, 293, 312, 75, 'border:2px solid ' + BORDER + ';border-radius:11px;background:#fff');
box(page, 811, 322, 2, 18, 'background:' + BORDER);
box(page, 1058, 322, 2, 18, 'background:' + BORDER);
var filterLabels = ['My Projects', 'All Envs', '24H', 'All Releases'];
var filterText = [583, 891, 1150, 1381];
var filterIconX = [530, 841, 1097, 1332];
var filterChevron = [755, 1014, 1222, 1561];
var filterIcons = [
  navIcons[1],
  '<rect x="1" y="1" width="14" height="14" rx="2"/><path d="M1 5h14M3.500 3h.5M6 3h.5"/>',
  '<rect x="1" y="2" width="14" height="13" rx="2"/><path d="M1 6h14M5 1v2.500M11 1v2.500"/>',
  navIcons[7]
];
filterLabels.forEach(function (label, i) {
  icon(page, filterIconX[i], 315, 32, 32, '0 0 16 16', filterIcons[i], INK, 1.2);
  txt(page, filterText[i], 331, label, 27.5, INK, 500);
  icon(page, filterChevron[i], 326, 19, 10, '0 0 18 10', '<path d="M1 1l8 8 8-8"/>', INK, 1.5);
});

/* ---- cards ---- */
function card(x, y, w, h) {
  return el(page, 'card', 'left:' + x + 'px;top:' + y + 'px;width:' + w + 'px;height:' + h + 'px');
}
// title and the two header icons go last so they sit over the chart canvas
function cardHead(c, w, title) {
  txt(c, 39, 51, title, 31, '#2b2233', 400);
  c.insertAdjacentHTML('beforeend', '<svg style="left:' + (w - 140) + 'px;top:44px" width="46" height="14" viewBox="0 0 46 14"><g fill="#3e3446"><circle cx="8" cy="7" r="3.1"/><circle cx="23" cy="7" r="3.1"/><circle cx="38" cy="7" r="3.1"/></g></svg>');
  icon(c, w - 62, 40, 24, 24, '0 0 24 24', '<path d="M1 8V1h7M16 1h7v7M23 16v7h-7M8 23H1v-7"/>', '#3e3446', 2.4);
}
var col1 = 501, col2 = 1519, col3 = 2539, colW = 985;

var cardErrors = card(col1, 402, colW, 238);
txt(cardErrors, 41, 142, '2.1k', 125, '#2b2233', 400, '', 'font-family:Roboto;letter-spacing:-5px');
cardHead(cardErrors, colW, 'Number of Errors');

var cardIssues = card(col2, 402, colW, 238);
txt(cardIssues, 41, 142, '25', 125, '#2b2233', 400, '', 'font-family:Roboto;letter-spacing:-5px');
cardHead(cardIssues, colW, 'Number of Issues');

var cardMisery = card(col3, 1490, colW - 2, 238);
txt(cardMisery, 41, 144, '0.5609', 125, '#2b2233', 400, '', 'font-family:Roboto;letter-spacing:-5px');
cardHead(cardMisery, colW - 2, 'Overall User Misery');

// empty cards peeking from the bottom edge
card(col1, 1761, colW, 200);
card(col2, 1761, colW, 200);
card(col3, 1761, colW - 2, 200);

function chartCard(x, y, w, h) {
  var c = card(x, y, w, h);
  var holder = el(c, 'chart', 'left:-2px;top:-2px;width:' + w + 'px;height:' + h + 'px');
  return { card: c, holder: holder };
}

// shared line chart setup
var xTimes = [];
for (var i = 0; i < handled.length; i++) {
  var m = (startMinutes + i * bucketMinutes) % 1440;
  var h24 = Math.floor(m / 60);
  var mm = m % 60;
  xTimes.push((h24 % 12 || 12) + ':' + (mm < 10 ? '0' : '') + mm + (h24 < 12 ? ' AM' : ' PM'));
}
function isTick(i, v) { return tickLabels.indexOf(v) >= 0; }

function lineOption(plot, yMax, yStep, series) {
  return {
    animation: false,
    textStyle: { fontFamily: 'Roboto' },
    legend: {
      show: true, left: 40, top: plot.legendTop, padding: 0, icon: 'circle', itemWidth: 16, itemHeight: 16, itemGap: 10,
      textStyle: { fontSize: 24, color: '#3e3446', fontFamily: 'Roboto', padding: [0, 0, 0, 5] },
      selectedMode: false
    },
    grid: { left: plot.left, top: plot.top, width: plot.width, height: plot.height, containLabel: false },
    xAxis: {
      type: 'category', data: xTimes, boundaryGap: false,
      axisLine: { lineStyle: { color: '#80708f', width: 2.5 } },
      axisTick: { show: true, length: 9, interval: isTick, lineStyle: { color: '#80708f', width: 2 } },
      axisLabel: { interval: isTick, color: '#80708f', fontSize: 24, margin: 24, fontFamily: 'Roboto' },
      splitLine: { show: false }
    },
    yAxis: {
      type: 'value', min: 0, max: yMax, interval: yStep,
      axisLine: { show: false }, axisTick: { show: false },
      axisLabel: { color: '#80708f', fontSize: 24, margin: 16, fontFamily: 'Roboto' },
      splitLine: { lineStyle: { color: '#f5f3f7', width: 2 } }
    },
    series: series.map(function (s) {
      return {
        name: s[0], type: 'line', data: s[1], symbol: 'none', silent: true,
        lineStyle: { color: s[2], width: 3.8 }, itemStyle: { color: s[2] }
      };
    })
  };
}

var NAVY = '#444674', GOLD = '#e9b73f';

var affected = chartCard(col1, 674, colW, 510);
echarts.init(affected.holder).setOption(lineOption(
  { left: 85, top: 154.5, width: 850, height: 266.5, legendTop: 78 }, 25, 5,
  [['Known Users : count_unique(user)', knownUsers, NAVY], ['Anonymous Users : count_unique(user)', anonymousUsers, GOLD]]
));
cardHead(affected.card, colW, 'Affected Users');

var handledCard = chartCard(col2, 674, colW, 510);
echarts.init(handledCard.holder).setOption(lineOption(
  { left: 82, top: 152.5, width: 853, height: 268.5, legendTop: 78 }, 18, 3,
  [['Handled : count()', handled, NAVY], ['Unhandled : count()', unhandled, GOLD]]
));
cardHead(handledCard.card, colW, 'Handled vs. Unhandled');

var eventsCard = chartCard(col3, 402, colW - 2, 510);
echarts.init(eventsCard.holder).setOption(lineOption(
  { left: 86, top: 153.5, width: 849, height: 268, legendTop: 78 }, 25, 5,
  [['Events : count()', eventCounts, NAVY]]
));
cardHead(eventsCard.card, colW - 2, 'Events');

/* ---- map ---- */
var geoFeatures = worldShapes.map(function (s) {
  return {
    type: 'Feature',
    properties: { name: s[0] },
    geometry: {
      type: 'MultiPolygon',
      coordinates: s.slice(1).map(function (ring) { return [ring.concat([ring[0]])]; })
    }
  };
});
echarts.registerMap('world', { type: 'FeatureCollection', features: geoFeatures });

var mapCard = chartCard(col3, 946, colW - 2, 510);
var mapHolder = mapCard.holder;
mapHolder.style.top = '71px';
mapHolder.style.height = '437px';
echarts.init(mapHolder).setOption({
  animation: false,
  visualMap: {
    type: 'continuous', min: 0, max: 12, left: 868, top: 5, itemWidth: 39, itemHeight: 280, textGap: 18,
    text: ['High', 'Low'], textStyle: { color: '#2b2233', fontSize: 24, fontFamily: 'Roboto' },
    inRange: { color: ['#8d86b5', '#655abf'] }, calculable: false, realtime: false, hoverLink: false
  },
  series: [{
    type: 'map', map: 'world', roam: false, silent: true, selectedMode: false,
    boundingCoords: [[-180, 85], [190, -60]], aspectScale: 0.8533,
    layoutCenter: [477.1, 187.6], layoutSize: 925,
    label: { show: false },
    itemStyle: { areaColor: '#dfdde6', borderColor: '#fff', borderWidth: 1.2 },
    data: errorCountries.map(function (name, i) { return { name: name, value: errorCountryValues[i] }; })
  }]
});
cardHead(mapCard.card, colW - 2, 'Errors by Country');

/* ---- tables ---- */
function tableCard(x, title) {
  var c = card(x, 1217, colW, 511);
  cardHead(c, colW, title);
  box(c, -2, 97, colW, 91, 'background:#faf9fb;border-top:2px solid ' + BORDER + ';border-bottom:2px solid ' + BORDER);
  return c;
}
var browserCard = tableCard(col1, 'Errors by Browser');
txt(browserCard, 39, 142, 'BROWSER.NAME', 23, MUTED, 600);
txt(browserCard, 940, 142, 'COUNT()', 23, MUTED, 600, 'r');
var browserRowCenters = [224, 297, 371, 443, 516];
browsers.forEach(function (name, i) {
  txt(browserCard, 39, browserRowCenters[i], name, 27, INK, 400);
  txt(browserCard, 940, browserRowCenters[i], browserCounts[i], 27, INK, 400, 'r');
  if (i < 4) box(browserCard, -2, [259, 333, 406, 480][i], colW, 2, 'background:' + BORDER);
});

var transactionCard = tableCard(col2, 'High Throughput Transactions');
txt(transactionCard, 186, 142, 'COUNT()', 23, MUTED, 600, 'r');
txt(transactionCard, 266, 142, 'TRANSACTION', 23, MUTED, 600);
var transactionRowCenters = [207, 280, 354, 427, 499];
transactionCounts.forEach(function (n, i) {
  txt(transactionCard, 186, transactionRowCenters[i], n, 27, INK, 400, 'r');
  txt(transactionCard, 266, transactionRowCenters[i], transactionNames[i], 27.8, '#3d74db', 400);
  if (i < 4) box(transactionCard, -2, [243, 317, 391, 464][i], colW, 2, 'background:' + BORDER);
});
</script>
</body>
</html>
